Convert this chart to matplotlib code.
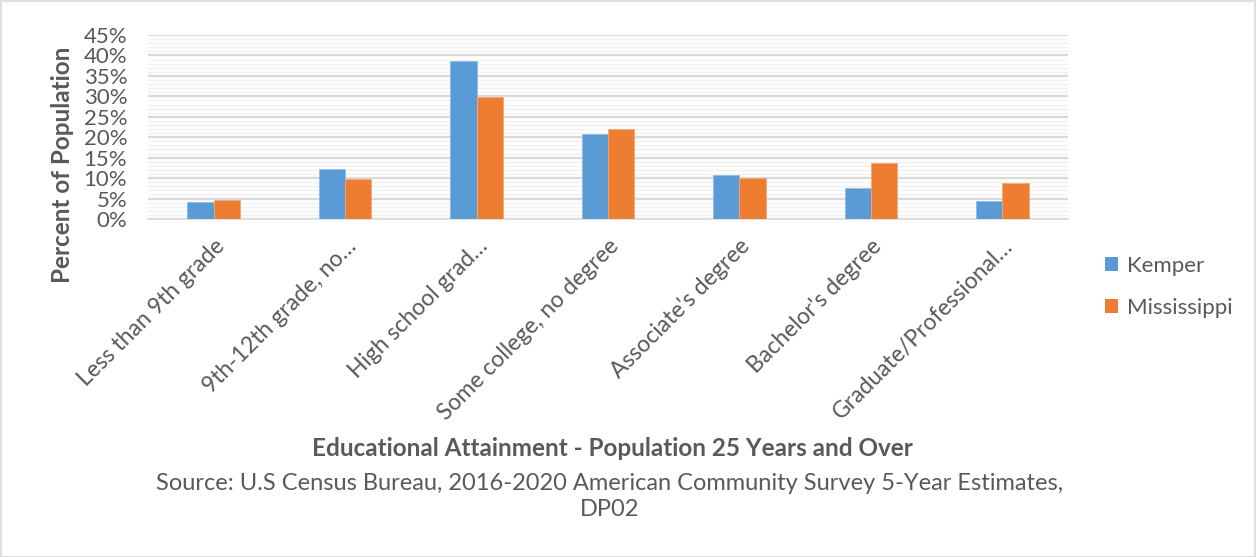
import matplotlib
matplotlib.use("Agg")
import matplotlib.pyplot as plt
import numpy as np
from matplotlib.patches import Rectangle, Patch
from matplotlib.ticker import MultipleLocator, PercentFormatter

categories = ["Less than 9th grade", "9th-12th grade, no…", "High school grad…",
              "Some college, no degree", "Associate's degree", "Bachelor's degree",
              "Graduate/Professional…"]
kemper = [4.2, 12.3, 38.6, 20.9, 10.8, 7.7, 4.5]
mississippi = [4.6, 9.9, 29.9, 22.1, 10.1, 13.7, 8.8]
series_names = ["Kemper", "Mississippi"]
colors = ["#5B9BD5", "#ED7D31"]

plt.rcParams['font.family'] = ['Lato', 'DejaVu Sans']
TXT = "#595959"

W, H = 1256, 557
fig = plt.figure(figsize=(W / 100, H / 100), dpi=100)
ax = fig.add_axes([148 / W, 1 - 219 / H, (1068 - 148) / W, (219 - 35) / H])

x = np.arange(len(categories))
bw = 0.2
ax.bar(x - bw / 2, kemper, bw, color=colors[0], edgecolor="#8fbbe3", linewidth=0.6, zorder=3)
ax.bar(x + bw / 2, mississippi, bw, color=colors[1], edgecolor="#f3a877", linewidth=0.6, zorder=3)

ax.set_xlim(-0.5, len(categories) - 0.5)
ax.set_ylim(0, 45)
ax.yaxis.set_major_locator(MultipleLocator(5))
ax.yaxis.set_minor_locator(MultipleLocator(1))
ax.yaxis.set_major_formatter(PercentFormatter(decimals=0))
ax.grid(axis='y', which='major', color="#d9d9d9", linewidth=1.6, zorder=0)
ax.grid(axis='y', which='minor', color="#f0f0f0", linewidth=1.0, zorder=0)
ax.set_axisbelow(True)
for s in ["top", "right", "left"]:
    ax.spines[s].set_visible(False)
ax.spines["bottom"].set_color("#d9d9d9")
ax.spines["bottom"].set_linewidth(1.2)
ax.tick_params(axis='y', which='both', length=0, labelsize=16, labelcolor=TXT, pad=15)
ax.tick_params(axis='x', length=0, labelsize=16.5, labelcolor=TXT, pad=12)
ax.set_xticks(x)
ax.set_xticklabels(categories, rotation=45, ha='right', rotation_mode='anchor')

fig.text(62 / W, 1 - 165 / H, "Percent of Population", rotation=90, ha='center', va='center',
         fontsize=17.5, fontweight='bold', color=TXT)

fig.text(612 / W, 1 - 448 / H, "Educational Attainment - Population 25 Years and Over",
         ha='center', va='center', fontsize=17.5, fontweight='bold', color=TXT)
fig.text(610 / W, 1 - 483 / H, "Source: U.S Census Bureau, 2016-2020 American Community Survey 5-Year Estimates,",
         ha='center', va='center', fontsize=17, color=TXT)
fig.text(610 / W, 1 - 510 / H, "DP02", ha='center', va='center', fontsize=17, color=TXT)

handles = [Patch(facecolor=c, edgecolor='none') for c in colors]
fig.legend(handles, series_names, loc='upper left', bbox_to_anchor=(1085 / W, 1 - 236 / H),
           frameon=False, fontsize=16, labelcolor=TXT, handlelength=0.6, handleheight=0.6,
           handletextpad=0.4, labelspacing=1.0)

fig.add_artist(Rectangle((0.5 / W, 0.5 / H), 1 - 1.5 / W, 1 - 1.5 / H, transform=fig.transFigure,
                         fill=False, edgecolor="#d9d9d9", linewidth=1.2))

fig.savefig("out.png", dpi=100)
